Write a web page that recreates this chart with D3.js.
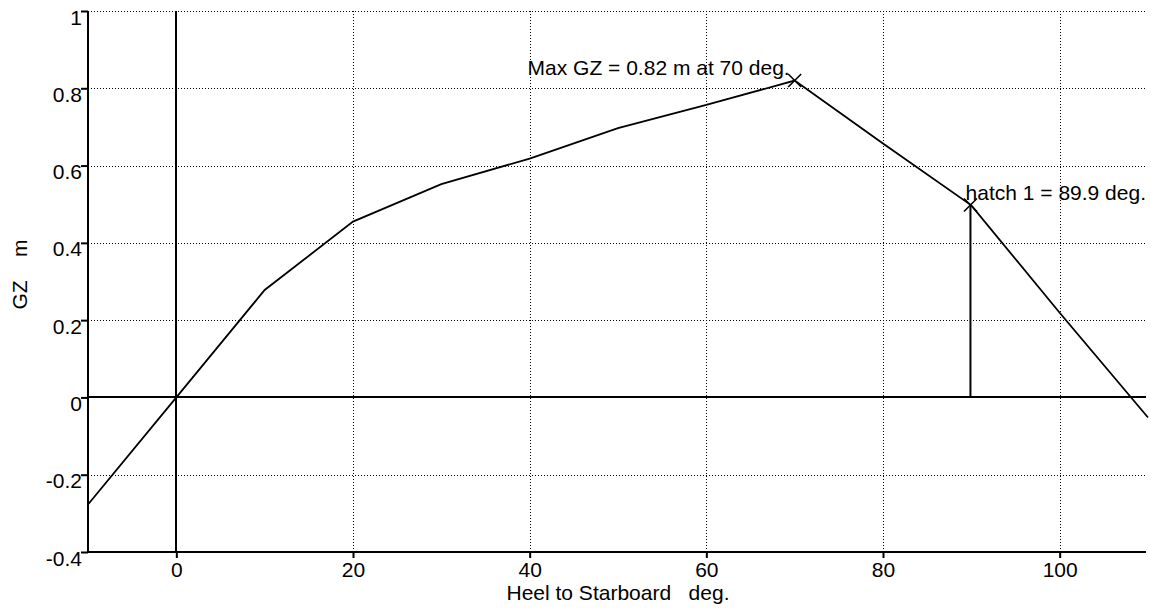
<!DOCTYPE html>
<html>
<head>
<meta charset="utf-8">
<script src="https://cdn.jsdelivr.net/npm/d3@7"></script>
<style>
  html, body { margin: 0; padding: 0; background: #fff; }
  svg { display: block; }
  text { font-family: Arial, "Liberation Sans", sans-serif; fill: #000; white-space: pre; }
</style>
</head>
<body>
<svg id="chart" width="1151" height="611"></svg>
<script>
// ---- data ----
const heelAngles = [-10, 0, 10, 20, 30, 40, 50, 60, 70, 80, 90, 100, 110];
const gzValues   = [-0.277, 0, 0.278, 0.455, 0.552, 0.618, 0.697, 0.757, 0.820, 0.657, 0.497, 0.219, -0.052];
const xTickValues = [0, 20, 40, 60, 80, 100];
const yTickValues = [-0.4, -0.2, 0, 0.2, 0.4, 0.6, 0.8, 1];
const yTickLabels = ["-0.4", "-0.2", "0", "0.2", "0.4", "0.6", "0.8", "1"];
const maxPoint   = [70, 0.82];
const hatchPoint = [89.9, 0.498];
const maxLabel   = "Max GZ = 0.82 m at 70 deg.";
const hatchLabel = "hatch 1 = 89.9 deg.";
const xTitle = "Heel to Starboard   deg.";
const yTitle = "GZ    m";

// ---- layout ----
const svg = d3.select("#chart");
const pL = 88, pR = 1148, pT = 11, pB = 552;
const x = d3.scaleLinear().domain([-10, 110]).range([pL, pR]);
const y = d3.scaleLinear().domain([-0.4, 1]).range([pB, pT]);
const FS = 21;
const snap = v => Math.round(v) + 0.5;

// grid (dotted)
const grid = svg.append("g").attr("stroke", "#000").attr("stroke-width", 1).attr("stroke-dasharray", "1,2");
grid.selectAll("line.h").data(yTickValues.filter(v => v !== 0 && v !== -0.4)).enter()
  .append("line").attr("x1", pL).attr("x2", pR - 2)
  .attr("y1", d => snap(y(d))).attr("y2", d => snap(y(d)));
grid.selectAll("line.v").data(xTickValues.filter(v => v !== 0)).enter()
  .append("line").attr("y1", pT).attr("y2", pB)
  .attr("x1", d => snap(x(d))).attr("x2", d => snap(x(d)));

// solid zero lines
svg.append("line").attr("x1", pL).attr("x2", pR - 2).attr("y1", Math.round(y(0))).attr("y2", Math.round(y(0)))
  .attr("stroke", "#000").attr("stroke-width", 2);
svg.append("line").attr("x1", Math.round(x(0))).attr("x2", Math.round(x(0))).attr("y1", pT).attr("y2", pB)
  .attr("stroke", "#000").attr("stroke-width", 2);

// axes
const yAxis = d3.axisLeft(y).tickValues(yTickValues).tickSize(7).tickSizeOuter(0)
  .tickFormat((d, i) => yTickLabels[i]);
const gy = svg.append("g").attr("transform", `translate(${pL},0)`).call(yAxis);
gy.select(".domain").attr("stroke-width", 2).attr("d", `M0,${pT}V${pB}`);
gy.selectAll(".tick line").attr("stroke-width", 2);
gy.selectAll(".tick text").attr("x", -6).attr("dy", null).attr("y", 13)
  .style("font-size", FS + "px");
gy.attr("font-family", null).attr("font-size", null);

const xAxis = d3.axisBottom(x).tickValues(xTickValues).tickSize(6).tickSizeOuter(0)
  .tickFormat(d3.format("d"));
const gx = svg.append("g").attr("transform", `translate(0,${pB})`).call(xAxis);
gx.select(".domain").attr("stroke-width", 2).attr("d", `M${pL},0H${pR - 2}`);
gx.selectAll(".tick line").attr("stroke-width", 2);
gx.selectAll(".tick text").attr("dy", null).attr("y", 25)
  .style("font-size", FS + "px");
gx.attr("font-family", null).attr("font-size", null);
svg.selectAll(".tick text").attr("fill", "#000");

// hatch vertical line
svg.append("line").attr("x1", x(hatchPoint[0])).attr("x2", x(hatchPoint[0]))
  .attr("y1", y(0)).attr("y2", y(hatchPoint[1]))
  .attr("stroke", "#000").attr("stroke-width", 2);

// GZ curve
const line = d3.line().x(d => x(d[0])).y(d => y(d[1]));
svg.append("path").datum(heelAngles.map((a, i) => [a, gzValues[i]]))
  .attr("d", line).attr("fill", "none").attr("stroke", "#000").attr("stroke-width", 1.8);

// markers
const m = 6.5;
[maxPoint, hatchPoint].forEach(p => {
  const cx = x(p[0]), cy = y(p[1]);
  svg.append("path").attr("d", `M${cx - m},${cy - m}L${cx + m},${cy + m}M${cx - m},${cy + m}L${cx + m},${cy - m}`)
    .attr("stroke", "#000").attr("stroke-width", 1.6).attr("fill", "none");
});

// annotations
svg.append("text").attr("x", x(maxPoint[0]) - 5).attr("y", y(maxPoint[1]) - 5.5)
  .attr("text-anchor", "end").style("font-size", FS + "px").text(maxLabel);
svg.append("text").attr("x", pR - 2).attr("y", y(hatchPoint[1]) - 4.5)
  .attr("text-anchor", "end").style("font-size", FS + "px").text(hatchLabel);

// axis titles
svg.append("text").attr("x", (pL + pR) / 2).attr("y", 600)
  .attr("text-anchor", "middle").style("font-size", FS + "px").text(xTitle);
svg.append("text").attr("transform", `translate(27,${(pT + pB) / 2 - 7}) rotate(-90)`)
  .attr("text-anchor", "middle").style("font-size", FS + "px").text(yTitle);
</script>
</body>
</html>
